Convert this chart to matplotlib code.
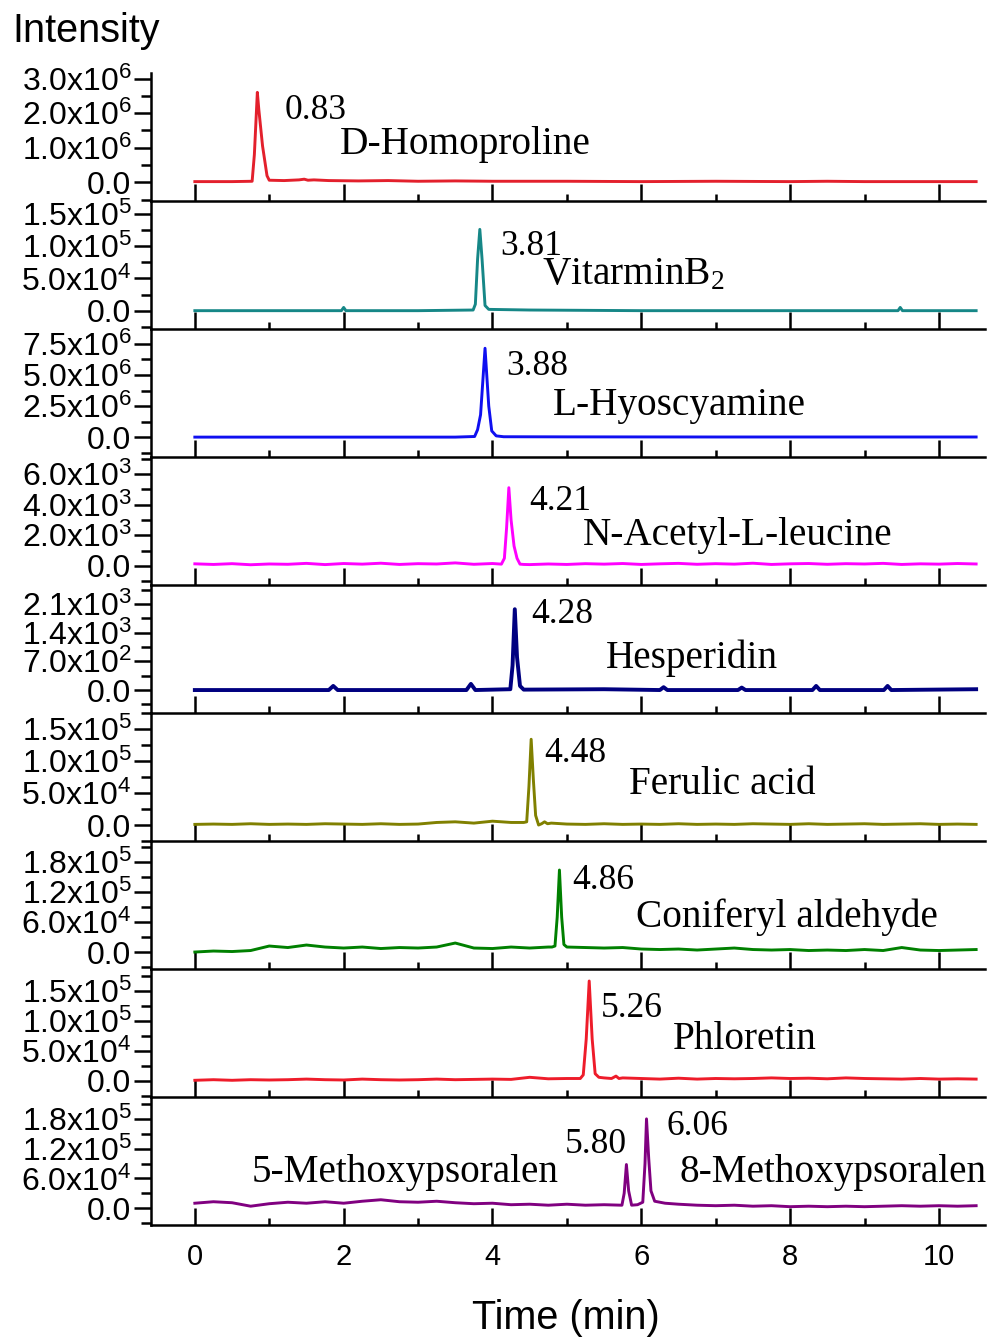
import numpy as np
import matplotlib
matplotlib.use("Agg")
import matplotlib.pyplot as plt
from matplotlib.ticker import FixedLocator, MultipleLocator

plt.rcParams['font.family'] = 'Liberation Sans'
plt.rcParams['mathtext.default'] = 'regular'

# ---- data (time in min) ----
# baseline readings every 0.25 min from 0 to 10.5 (43 values) for the noisy traces
grid_n = 43

# 1  D-Homoproline (x1e6)
homo_t = [0, 0.3, 0.5, 0.77, 0.80, 0.84, 0.86, 0.91, 0.97, 1.0, 1.2, 1.4, 1.47, 1.52, 1.6, 1.8,
          2.2, 2.6, 3.0, 3.5, 4.0, 5.0, 6.0, 7.0, 8.0, 8.5, 9.0, 10.0, 10.5]
homo_y = [0.02, 0.02, 0.02, 0.03, 0.8, 2.6, 2.1, 1.05, 0.19, 0.06, 0.05, 0.07, 0.09, 0.06, 0.07, 0.05,
          0.04, 0.05, 0.03, 0.04, 0.03, 0.03, 0.02, 0.03, 0.02, 0.03, 0.02, 0.02, 0.02]

# 2  VitarminB2 (x1e5)
vitb_t = [0, 1.0, 1.97, 2.0, 2.03, 3.0, 3.74, 3.77, 3.80, 3.83, 3.86, 3.90, 3.95, 4.5, 6.0, 8.0,
          9.45, 9.48, 9.51, 10.5]
vitb_y = [0, 0, 0, 0.05, 0, 0, 0.01, 0.1, 0.8, 1.26, 0.8, 0.08, 0.02, 0.01, 0, 0,
          0, 0.05, 0, 0]

# 3  L-Hyoscyamine (x1e6)
hyos_t = [0, 2.0, 3.5, 3.76, 3.80, 3.84, 3.90, 3.95, 3.99, 4.05, 4.15, 5.0, 7.0, 10.5]
hyos_y = [0, 0, 0, 0.05, 0.6, 1.8, 7.15, 2.5, 0.5, 0.1, 0.03, 0.02, 0.01, 0.01]

# 4  N-Acetyl-L-leucine (x1e3)
nacl_base = [0.14, 0.10, 0.15, 0.08, 0.13, 0.11, 0.17, 0.09, 0.16, 0.12, 0.18, 0.10, 0.15, 0.13,
             0.20, 0.11, 0.16, 0.12, 0.09, 0.13, 0.10, 0.15, 0.12, 0.16, 0.10, 0.14, 0.17, 0.11,
             0.15, 0.12, 0.18, 0.10, 0.14, 0.16, 0.11, 0.15, 0.13, 0.17, 0.10, 0.14, 0.12, 0.16, 0.13]
nacl_pk_t = [4.12, 4.16, 4.19, 4.22, 4.25, 4.29, 4.33, 4.37, 4.42]
nacl_pk_y = [0.12, 0.5, 2.5, 5.1, 3.0, 1.3, 0.5, 0.12, 0.10]

# 5  Hesperidin (x1e3)
hesp_t = [0, 1.8, 1.86, 1.92, 3.65, 3.71, 3.77, 4.24, 4.27, 4.30, 4.33, 4.37, 4.42, 5.5,
          6.25, 6.3, 6.35, 7.3, 7.35, 7.4, 8.3, 8.35, 8.4, 9.26, 9.31, 9.36, 10.5]
hesp_y = [0, 0, 0.1, 0, 0, 0.15, 0, 0.02, 0.6, 1.97, 0.8, 0.1, 0.01, 0.02,
          0, 0.07, 0, 0, 0.06, 0, 0, 0.1, 0, 0, 0.1, 0, 0.02]

# 6  Ferulic acid (x1e5)
feru_base = [0.01, 0.015, 0.01, 0.02, 0.01, 0.015, 0.01, 0.02, 0.015, 0.01, 0.02, 0.01, 0.015,
             0.04, 0.05, 0.03, 0.06, 0.04, 0.03, 0.02, 0.015, 0.01, 0.02, 0.01, 0.015, 0.01, 0.02,
             0.01, 0.015, 0.01, 0.02, 0.015, 0.01, 0.02, 0.01, 0.015, 0.02, 0.01, 0.015, 0.02,
             0.01, 0.015, 0.01]
feru_pk_t = [4.42, 4.46, 4.49, 4.52, 4.55, 4.58, 4.62, 4.66, 4.70, 4.74, 4.79]
feru_pk_y = [0.04, 0.05, 0.6, 1.34, 0.7, 0.15, 0.0, 0.02, 0.05, 0.02, 0.03]

# 7  Coniferyl aldehyde (x1e5)
coni_base = [0.0, 0.02, 0.01, 0.03, 0.12, 0.09, 0.14, 0.10, 0.08, 0.10, 0.07, 0.09, 0.08, 0.10,
             0.18, 0.08, 0.07, 0.10, 0.08, 0.10, 0.10, 0.09, 0.08, 0.09, 0.06, 0.05, 0.06, 0.04,
             0.06, 0.08, 0.05, 0.04, 0.05, 0.03, 0.04, 0.03, 0.05, 0.03, 0.09, 0.04, 0.03, 0.04, 0.05]
coni_pk_t = [4.80, 4.84, 4.87, 4.90, 4.93, 4.96]
coni_pk_y = [0.10, 0.12, 0.7, 1.64, 0.7, 0.15]

# 8  Phloretin (x1e5)
phlo_base = [0.01, 0.02, 0.01, 0.02, 0.015, 0.02, 0.03, 0.02, 0.015, 0.03, 0.02, 0.015, 0.02,
             0.03, 0.02, 0.025, 0.03, 0.025, 0.06, 0.035, 0.04, 0.05, 0.04, 0.05, 0.04, 0.03,
             0.045, 0.03, 0.04, 0.035, 0.04, 0.05, 0.04, 0.045, 0.035, 0.05, 0.04, 0.035, 0.03,
             0.04, 0.03, 0.035, 0.03]
phlo_pk_t = [5.18, 5.22, 5.26, 5.30, 5.34, 5.38, 5.43, 5.50, 5.60, 5.66, 5.70]
phlo_pk_y = [0.04, 0.1, 0.7, 1.67, 0.7, 0.12, 0.06, 0.05, 0.04, 0.08, 0.04]

# 9  5-/8-Methoxypsoralen (x1e5)
mops_base = [0.10, 0.13, 0.11, 0.04, 0.09, 0.12, 0.10, 0.13, 0.10, 0.14, 0.17, 0.13, 0.12, 0.14,
             0.11, 0.09, 0.10, 0.07, 0.08, 0.06, 0.08, 0.06, 0.07, 0.06, 0.06, 0.08, 0.08, 0.06,
             0.05, 0.06, 0.04, 0.05, 0.03, 0.04, 0.03, 0.04, 0.03, 0.04, 0.05, 0.04, 0.05, 0.04, 0.05]
mops_pk_t = [5.74, 5.77, 5.80, 5.83, 5.87, 5.95, 6.02, 6.05, 6.07, 6.10, 6.13, 6.18, 6.25, 6.32]
mops_pk_y = [0.06, 0.3, 0.88, 0.35, 0.06, 0.07, 0.12, 0.9, 1.8, 1.0, 0.35, 0.14, 0.12, 0.1]


def merge(base, pk_t, pk_y):
    tb = np.linspace(0, 10.5, grid_n)
    yb = np.array(base)
    keep = (tb < min(pk_t)) | (tb > max(pk_t))
    t = np.concatenate([tb[keep], pk_t])
    y = np.concatenate([yb[keep], pk_y])
    o = np.argsort(t)
    return t[o], y[o]


def sci(m, e):
    return m + r'x10$^{%d}$' % e


panels = [
    dict(t=homo_t, y=homo_y, scale=1e6, color='#e3202c', lim=(-0.54e6, 3.16e6),
         major=[0, 1e6, 2e6, 3e6], lab=['0.0', sci('1.0', 6), sci('2.0', 6), sci('3.0', 6)], minor=0.5e6,
         texts=[('0.83', 1.21, 0.64, 'n'), ('D-Homoproline', 1.95, 0.367, 'c')]),
    dict(t=vitb_t, y=vitb_y, scale=1e5, color='#168787', lim=(-2.84e4, 1.70e5),
         major=[0, 5e4, 1e5, 1.5e5], lab=['0.0', sci('5.0', 4), sci('1.0', 5), sci('1.5', 5)], minor=2.5e4,
         texts=[('3.81', 4.11, 0.578, 'n'), ('VitarminB$_{2}$', 4.67, 0.35, 'c')]),
    dict(t=hyos_t, y=hyos_y, scale=1e6, color='#0f0ff0', lim=(-1.6e6, 8.7e6),
         major=[0, 2.5e6, 5e6, 7.5e6], lab=['0.0', sci('2.5', 6), sci('5.0', 6), sci('7.5', 6)], minor=1.25e6,
         texts=[('3.88', 4.19, 0.64, 'n'), ('L-Hyoscyamine', 4.81, 0.328, 'c')]),
    dict(base=nacl_base, pt=nacl_pk_t, py=nacl_pk_y, scale=1e3, color='#ff00ff', lim=(-1.24e3, 7.1e3),
         major=[0, 2e3, 4e3, 6e3], lab=['0.0', sci('2.0', 3), sci('4.0', 3), sci('6.0', 3)], minor=1e3,
         texts=[('4.21', 4.49, 0.586, 'n'), ('N-Acetyl-L-leucine', 5.21, 0.31, 'c')]),
    dict(t=hesp_t, y=hesp_y, scale=1e3, color='#000080', lim=(-0.56e3, 2.56e3),
         major=[0, 700, 1400, 2100], lab=['0.0', sci('7.0', 2), sci('1.4', 3), sci('2.1', 3)], minor=350,
         texts=[('4.28', 4.52, 0.70, 'n'), ('Hesperidin', 5.52, 0.35, 'c')]),
    dict(base=feru_base, pt=feru_pk_t, py=feru_pk_y, scale=1e5, color='#808000', lim=(-0.25e5, 1.75e5),
         major=[0, 5e4, 1e5, 1.5e5], lab=['0.0', sci('5.0', 4), sci('1.0', 5), sci('1.5', 5)], minor=2.5e4,
         texts=[('4.48', 4.70, 0.62, 'n'), ('Ferulic acid', 5.83, 0.37, 'c')]),
    dict(base=coni_base, pt=coni_pk_t, py=coni_pk_y, scale=1e5, color='#008000', lim=(-0.34e5, 2.22e5),
         major=[0, 6e4, 1.2e5, 1.8e5], lab=['0.0', sci('6.0', 4), sci('1.2', 5), sci('1.8', 5)], minor=3e4,
         texts=[('4.86', 5.07, 0.625, 'n'), ('Coniferyl aldehyde', 5.93, 0.33, 'c')]),
    dict(base=phlo_base, pt=phlo_pk_t, py=phlo_pk_y, scale=1e5, color='#ee1c2a', lim=(-0.27e5, 1.87e5),
         major=[0, 5e4, 1e5, 1.5e5], lab=['0.0', sci('5.0', 4), sci('1.0', 5), sci('1.5', 5)], minor=2.5e4,
         texts=[('5.26', 5.46, 0.625, 'n'), ('Phloretin', 6.42, 0.375, 'c')]),
    dict(base=mops_base, pt=mops_pk_t, py=mops_pk_y, scale=1e5, color='#800080', lim=(-0.34e5, 2.24e5),
         major=[0, 6e4, 1.2e5, 1.8e5], lab=['0.0', sci('6.0', 4), sci('1.2', 5), sci('1.8', 5)], minor=3e4,
         texts=[('5.80', 4.97, 0.5625, 'n'), ('6.06', 6.34, 0.70, 'n'),
                ('5-Methoxypsoralen', 0.76, 0.34, 'c'), ('8-Methoxypsoralen', 6.52, 0.34, 'c')]),
]

fig = plt.figure(figsize=(9.93, 13.39), dpi=100)
left, width = 0.152, 0.840
h = 0.0956
bottom0 = 0.0851

for i, p in enumerate(panels):
    ax = fig.add_axes([left, bottom0 + (8 - i) * h, width, h])
    if 'base' in p:
        t, y = merge(p['base'], p['pt'], p['py'])
    else:
        t, y = np.array(p['t']), np.array(p['y'])
    lw = 2.8 if p['color'] == '#000080' else 2.1
    ax.plot(t, y * p['scale'], color=p['color'], lw=lw)
    ax.set_xlim(-0.59, 10.62)
    ax.set_ylim(*p['lim'])
    ax.yaxis.set_major_locator(FixedLocator(p['major']))
    ax.set_yticklabels(p['lab'])
    ax.yaxis.set_minor_locator(MultipleLocator(p['minor']))
    ax.xaxis.set_major_locator(MultipleLocator(2))
    ax.xaxis.set_minor_locator(MultipleLocator(1))
    for s in ['top', 'right']:
        ax.spines[s].set_visible(False)
    for s in ['left', 'bottom']:
        ax.spines[s].set_linewidth(1.8)
    ax.tick_params(axis='y', which='major', direction='out', length=12, width=1.8, labelsize=23, pad=2)
    ax.tick_params(axis='y', which='minor', direction='out', length=7, width=1.8)
    ax.tick_params(axis='x', which='major', direction='in', length=12, width=1.8, labelsize=21, pad=13)
    ax.tick_params(axis='x', which='minor', direction='in', length=5, width=1.8)
    if i < 8:
        ax.tick_params(axis='x', labelbottom=False)
    ax.patch.set_visible(False)
    for txt, x, yf, kind in p['texts']:
        ax.text(x, yf, txt, transform=ax.get_xaxis_transform(), va='baseline', ha='left',
                family='Liberation Serif', fontsize=25.5 if kind == 'n' else 28.3)

fig.text(0.012, 0.9686, 'Intensity', fontsize=28.5, va='baseline', ha='left')
fig.text(0.570, 0.0157, 'Time (min)', fontsize=28.5, va='center', ha='center')

fig.savefig('out.png', dpi=100)
